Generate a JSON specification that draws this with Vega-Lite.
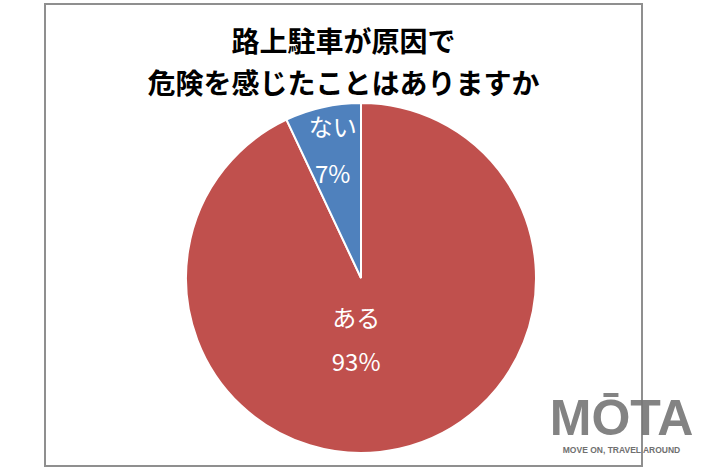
{
  "$schema": "https://vega.github.io/schema/vega-lite/v6.json",
  "width": 597,
  "height": 462,
  "autosize": {"type": "none"},
  "padding": {"left": 45, "top": 4, "right": 68, "bottom": 7},
  "background": "white",
  "view": {"stroke": "#8f8f8f", "strokeWidth": 2, "fill": "white"},
  "config": {
    "font": "Noto Sans CJK JP"
  },
  "title": {
    "text": ["路上駐車が原因で", "危険を感じたことはありますか"],
    "font": "Noto Sans CJK JP",
    "fontSize": 28,
    "fontWeight": "bold",
    "color": "#000000",
    "lineHeight": 42,
    "anchor": "middle",
    "frame": "group",
    "offset": 0,
    "dy": 96
  },
  "data": {
    "values": [
      {"answer": "ある", "value": 93, "pct": "93%"},
      {"answer": "ない", "value": 7, "pct": "7%"}
    ]
  },
  "layer": [
    {
      "mark": {"type": "arc", "x": 316, "y": 274, "outerRadius": 175, "stroke": "white", "strokeWidth": 2},
      "encoding": {
        "theta": {"field": "value", "type": "quantitative", "stack": true},
        "color": {
          "field": "answer",
          "type": "nominal",
          "scale": {"domain": ["ある", "ない"], "range": ["#c0504d", "#4f81bd"]},
          "legend": null
        },
        "order": {"field": "answer", "sort": "ascending"}
      }
    },
    {
      "mark": {"type": "text", "x": 316, "y": 274, "radius": 129.5, "dy": -22.5, "fontSize": 24, "color": "white", "font": "Noto Sans CJK JP"},
      "encoding": {
        "theta": {"field": "value", "type": "quantitative", "stack": true},
        "order": {"field": "answer", "sort": "ascending"},
        "text": {"condition": {"test": "datum.answer === 'ない'", "field": "answer"}, "value": ""}
      }
    },
    {
      "mark": {"type": "text", "x": 316, "y": 274, "radius": 129.5, "dy": 24, "fontSize": 24, "color": "white", "font": "Noto Sans CJK JP"},
      "encoding": {
        "theta": {"field": "value", "type": "quantitative", "stack": true},
        "order": {"field": "answer", "sort": "ascending"},
        "text": {"condition": {"test": "datum.answer === 'ない'", "field": "pct"}, "value": ""}
      }
    },
    {
      "mark": {"type": "text", "x": 316, "y": 274, "radius": 65, "dx": -19, "dy": -21.5, "fontSize": 24, "color": "white", "font": "Noto Sans CJK JP"},
      "encoding": {
        "theta": {"field": "value", "type": "quantitative", "stack": true},
        "order": {"field": "answer", "sort": "ascending"},
        "text": {"condition": {"test": "datum.answer === 'ある'", "field": "answer"}, "value": ""}
      }
    },
    {
      "mark": {"type": "text", "x": 316, "y": 274, "radius": 65, "dx": -19, "dy": 22.5, "fontSize": 24, "color": "white", "font": "Noto Sans CJK JP"},
      "encoding": {
        "theta": {"field": "value", "type": "quantitative", "stack": true},
        "order": {"field": "answer", "sort": "ascending"},
        "text": {"condition": {"test": "datum.answer === 'ある'", "field": "pct"}, "value": ""}
      }
    },
    {
      "data": {"values": [{"logo": "MŌTA", "tagline": "MOVE ON, TRAVEL AROUND"}]},
      "mark": {"type": "text", "x": 576.5, "y": 431, "baseline": "alphabetic", "align": "center", "fontSize": 50, "fontWeight": "bold", "font": "Liberation Sans", "color": "#767676", "opacity": 0.9},
      "encoding": {"text": {"field": "logo"}}
    },
    {
      "data": {"values": [{"logo": "MŌTA", "tagline": "MOVE ON, TRAVEL AROUND"}]},
      "mark": {"type": "text", "x": 576.5, "y": 449, "baseline": "alphabetic", "align": "center", "fontSize": 8.5, "fontWeight": "bold", "font": "Liberation Sans", "color": "#707070"},
      "encoding": {"text": {"field": "tagline"}}
    }
  ]
}
